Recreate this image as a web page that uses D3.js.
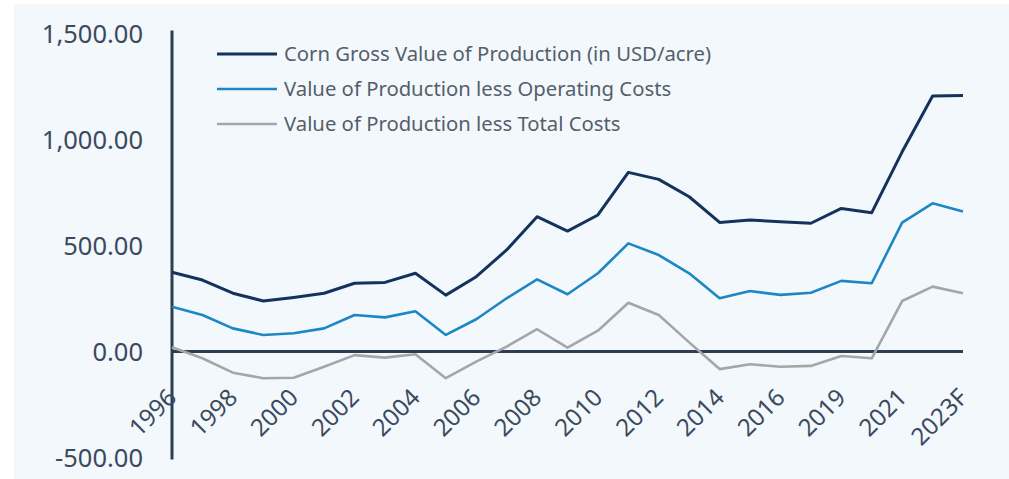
<!DOCTYPE html>
<html>
<head>
<meta charset="utf-8">
<script src="https://cdn.jsdelivr.net/npm/d3@7"></script>
<style>
    html, body { margin: 0; padding: 0; background: #ffffff; }
    svg { display: block; }
    text { font-family: "Noto Sans", sans-serif; }
</style>
</head>
<body>
<div id="chart"></div>
<script>
// categories on the x axis (one hidden label between 2016 and 2019)
const years = ["1996","1997","1998","1999","2000","2001","2002","2003","2004","2005",
    "2006","2007","2008","2009","2010","2011","2012","2013","2014","2015",
    "2016","2018","2019","2020","2021","2022","2023F"];

// USD per acre
const grossValue = [374, 337, 275, 238, 255, 275, 322, 326, 369, 266,
    353, 479, 636, 568, 644, 845, 812, 730, 609, 620,
    612, 605, 675, 655, 942, 1205, 1208];
const lessOperating = [211, 172, 109, 78, 86, 109, 172, 161, 190, 78,
    152, 251, 340, 270, 369, 510, 455, 369, 251, 285,
    267, 277, 333, 322, 608, 699, 660];
const lessTotal = [20, -32, -100, -126, -124, -72, -17, -29, -13, -126,
    -48, 23, 105, 18, 98, 230, 172, 43, -83, -60,
    -72, -68, -21, -32, 238, 306, 275];

const seriesNames = ["Corn Gross Value of Production (in USD/acre)",
    "Value of Production less Operating Costs",
    "Value of Production less Total Costs"];
const seriesColors = ["#14335c", "#1d87c4", "#a3a7ab"];
const yTicks = [-500, 0, 500, 1000, 1500];

const width = 1009, height = 479;

const svg = d3.select("#chart").append("svg")
    .attr("width", width)
    .attr("height", height);

//light panel behind everything
svg.append("rect")
    .attr("x", 14).attr("y", 4)
    .attr("width", width - 14).attr("height", height - 4)
    .attr("fill", "#f3f8fc");

const x = d3.scalePoint(years, [172, 963]);
const y = d3.scaleLinear([-500, 1500], [457.5, 33.5]);

// the source uses a plain hyphen for negatives
const fmt = d => d3.format(",.2f")(d).replace("\u2212", "-");

// y tick labels, no tick marks
svg.append("g")
    .selectAll("text")
    .data(yTicks)
    .join("text")
    .attr("x", 143)
    .attr("y", d => y(d))
    .attr("dy", "0.36em")
    .attr("text-anchor", "end")
    .attr("font-size", 25.5)
    .attr("fill", "#3b4a5e")
    .text(fmt);

// vertical axis line
svg.append("line")
    .attr("x1", x(years[0])).attr("x2", x(years[0]))
    .attr("y1", y(1500) - 3).attr("y2", y(-500) + 2)
    .attr("stroke", "#2d3e52")
    .attr("stroke-width", 3);

// zero line
svg.append("line")
    .attr("x1", x(years[0])).attr("x2", x(years[years.length - 1]))
    .attr("y1", y(0)).attr("y2", y(0))
    .attr("stroke", "#2d3e52")
    .attr("stroke-width", 3);

// x labels, every other category, rotated
svg.append("g")
    .selectAll("text")
    .data(years.filter((d, i) => i % 2 === 0))
    .join("text")
    .attr("transform", d => `translate(${x(d) + 6},399)rotate(-45)`)
    .attr("text-anchor", "end")
    .attr("font-size", 24)
    .attr("fill", "#3b4a5e")
    .text(d => d);

const line = d3.line()
    .x((d, i) => x(years[i]))
    .y(d => y(d));

const allSeries = [grossValue, lessOperating, lessTotal];
const widths = [3, 2.6, 2.6];

// draw the lowest first so the dark line sits on top
[2, 1, 0].forEach(k => {
    svg.append("path")
        .datum(allSeries[k])
        .attr("d", line)
        .attr("fill", "none")
        .attr("stroke", seriesColors[k])
        .attr("stroke-width", widths[k])
        .attr("stroke-linejoin", "round");
});

// legend
const legend = svg.append("g");
seriesNames.forEach((name, k) => {
    const ly = 54 + k * 35;
    legend.append("line")
        .attr("x1", 217).attr("x2", 277)
        .attr("y1", ly).attr("y2", ly)
        .attr("stroke", seriesColors[k])
        .attr("stroke-width", widths[k]);
    legend.append("text")
        .attr("x", 284)
        .attr("y", ly)
        .attr("dy", "0.35em")
        .attr("font-size", 20.3)
        .attr("fill", "#555f6b")
        .text(name);
});
</script>
</body>
</html>
